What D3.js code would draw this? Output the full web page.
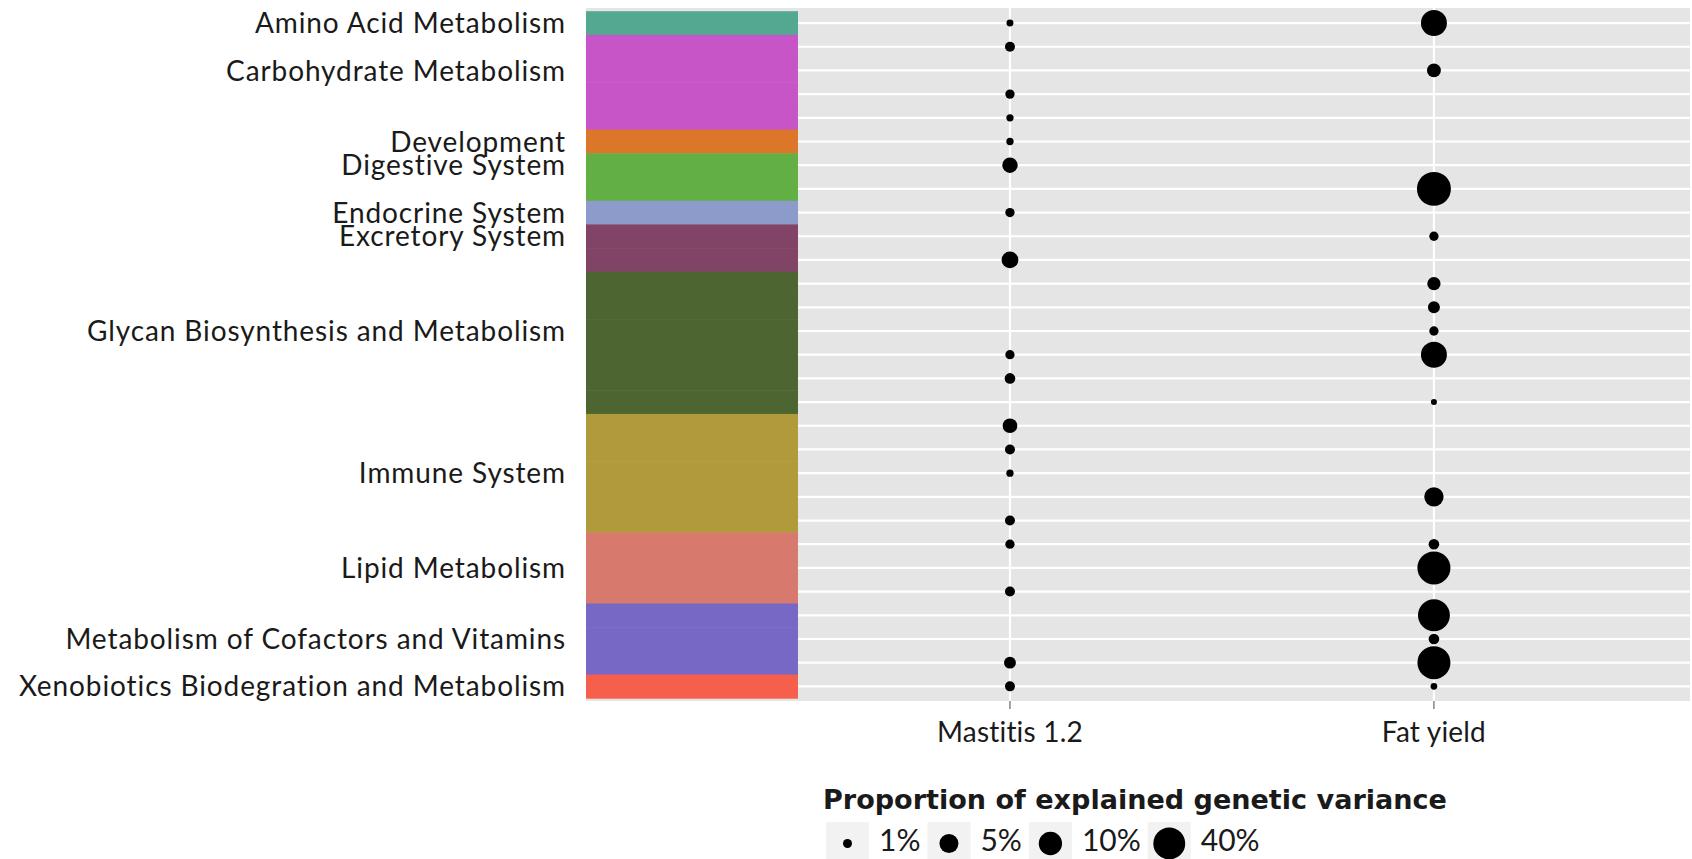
<!DOCTYPE html>
<html><head><meta charset="utf-8">
<script src="https://cdn.jsdelivr.net/npm/d3@7"></script>
<style>
body{margin:0;background:#fff;}
svg{display:block;}
text{font-family:Lato,"Open Sans",sans-serif;fill:#1a1a1a;}
</style>
</head><body>
<svg id="chart" width="1692" height="859"></svg>
<script>
// ---------------- data ----------------
const categories = [
  "Amino Acid Metabolism","Carbohydrate Metabolism","Development","Digestive System",
  "Endocrine System","Excretory System","Glycan Biosynthesis and Metabolism",
  "Immune System","Lipid Metabolism","Metabolism of Cofactors and Vitamins",
  "Xenobiotics Biodegration and Metabolism"
];
const categoryRowCounts = [1,4,1,2,1,2,6,5,3,3,1];
const categoryColors = ["#52a891","#c855c8","#dc772a","#62b043","#8c9bc9","#824466",
  "#4d6530","#b09a3b","#d8796d","#7768c5","#f65f4b"];
const traits = ["Mastitis 1.2","Fat yield"];
// proportion of explained genetic variance (%), one entry per pathway row (null = none)
const mastitis = [0.72,1.17,null,1.05,0.76,0.76,2.8,null,1.05,null,3.5,null,null,null,1.05,1.3,null,2.5,1.17,0.76,null,1.17,1.05,null,1.17,null,null,1.6,1.17];
const fatYield = [15.4,null,2.2,null,null,null,null,56,null,1.05,null,2.0,1.6,1.05,15.4,null,0.62,null,null,null,5.3,null,1.3,48,null,40,1.3,48,0.69];
const legendValues = [1,5,10,40];
const legendLabels = ["1%","5%","10%","40%"];
const legendTitle = "Proportion of explained genetic variance";

// ---------------- build rows ----------------
const rows = [];
categories.forEach((c,ci)=>{
  for(let k=0;k<categoryRowCounts[ci];k++) rows.push({id:rows.length, cat:c, ci, k});
});
rows.forEach((r,i)=>{ r.values=[mastitis[i], fatYield[i]]; });

const svg = d3.select("#chart");

// scales
const y = d3.scaleBand().domain(rows.map(r=>r.id)).range([11.2,698.2]).paddingInner(0).paddingOuter(0);
const x = d3.scaleLinear().domain([-1,1.604]).range([586,1690]);
const traitPos = d3.scaleOrdinal().domain(traits).range([0,1]);
const color = d3.scaleOrdinal().domain(categories).range(categoryColors);
const diam = d3.scaleLog().domain([1,40]).range([9,31.9]);

const panelTop=8, panelBottom=701;
// panel
svg.append("rect").attr("x",x(-1)).attr("y",panelTop).attr("width",x(1.604)-x(-1))
  .attr("height",panelBottom-panelTop).attr("fill","#e5e5e5");
// grid
svg.append("g").selectAll("line").data(rows).join("line")
  .attr("x1",x(-1)).attr("x2",x(1.604))
  .attr("y1",d=>y(d.id)+y.bandwidth()/2).attr("y2",d=>y(d.id)+y.bandwidth()/2)
  .attr("stroke","#fff").attr("stroke-width",2.2);
svg.append("g").selectAll("line").data(traits).join("line")
  .attr("x1",d=>x(traitPos(d))).attr("x2",d=>x(traitPos(d)))
  .attr("y1",panelTop).attr("y2",panelBottom)
  .attr("stroke","#fff").attr("stroke-width",2.2);

// category tiles
svg.append("g").selectAll("rect").data(rows).join("rect")
  .attr("x",x(-1)).attr("width",x(-0.5)-x(-1))
  .attr("y",d=>y(d.id)).attr("height",y.bandwidth()+0.5)
  .attr("fill",d=>color(d.cat));

// points
const pts=[];
rows.forEach(r=>traits.forEach((t,ti)=>{ if(r.values[ti]!=null) pts.push({r,t,v:r.values[ti]}); }));
svg.append("g").selectAll("circle").data(pts).join("circle")
  .attr("cx",d=>x(traitPos(d.t))).attr("cy",d=>y(d.r.id)+y.bandwidth()/2)
  .attr("r",d=>diam(d.v)/2).attr("fill","#000");

// y axis labels (one per category)
const labelRows = rows.filter(r=>r.k===Math.floor((categoryRowCounts[r.ci]-1)/2));
svg.append("g").selectAll("text").data(labelRows).join("text")
  .attr("x",566).attr("y",d=>y(d.id)+y.bandwidth()/2).attr("dy","0.36em")
  .attr("text-anchor","end").attr("font-size",28).attr("letter-spacing","0.9px").text(d=>d.cat);

// x axis
const xa = svg.append("g");
xa.selectAll("line").data(traits).join("line")
  .attr("x1",d=>x(traitPos(d))).attr("x2",d=>x(traitPos(d)))
  .attr("y1",panelBottom).attr("y2",panelBottom+8).attr("stroke","#666").attr("stroke-width",1.2);
xa.selectAll("text").data(traits).join("text")
  .attr("x",d=>x(traitPos(d))).attr("y",742).attr("text-anchor","middle")
  .attr("font-size",28).attr("letter-spacing","0.2px").text(d=>d);

// legend
const lg = svg.append("g");
const title = lg.append("text").attr("x",823).attr("y",809).attr("font-size",24)
  .attr("font-weight","bold").style("font-family","'DejaVu Sans',sans-serif").text(legendTitle);
const tl = title.node().getComputedTextLength();
title.attr("font-size", (24*624/tl).toFixed(2));
let lx=826;
legendValues.forEach((v,i)=>{
  lg.append("rect").attr("x",lx).attr("y",822).attr("width",43).attr("height",43).attr("fill","#f2f2f2");
  lg.append("circle").attr("cx",lx+21.5).attr("cy",843.5).attr("r",diam(v)/2).attr("fill","#000");
  const t = lg.append("text").attr("x",lx+53).attr("y",851).attr("font-size",30).text(legendLabels[i]);
  lx = lx+53+t.node().getComputedTextLength()+7;
});
</script>
</body></html>
